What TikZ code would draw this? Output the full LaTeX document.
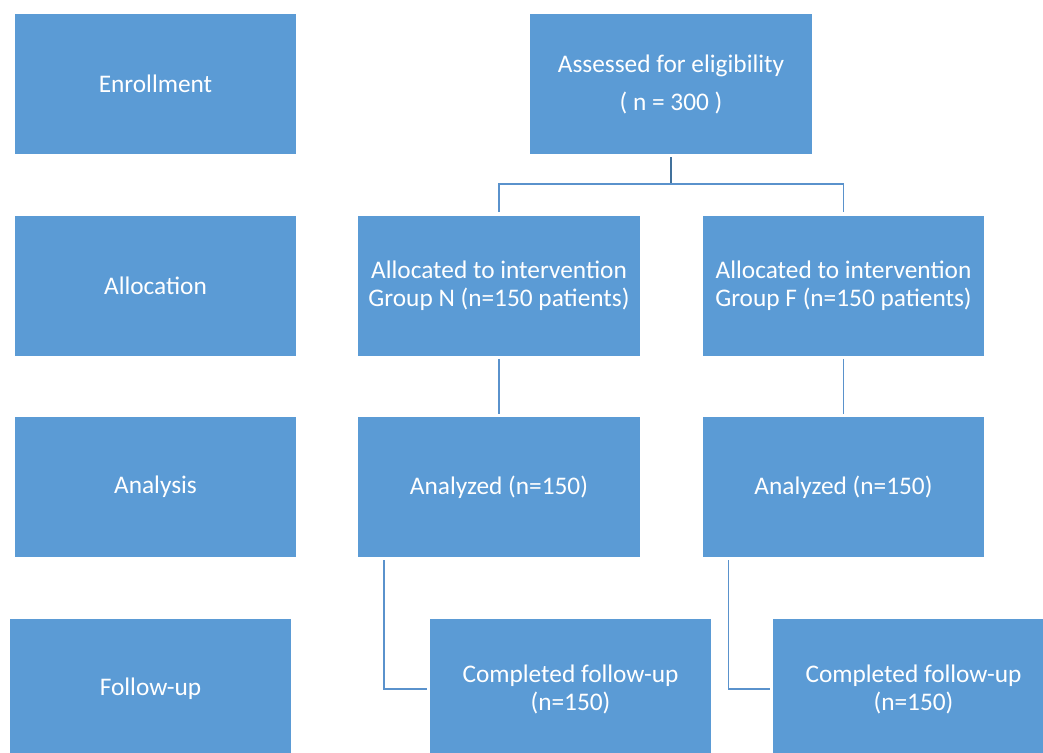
\documentclass[tikz,border=0pt]{standalone}
\usepackage{fontspec}
\setmainfont{Carlito}
\usetikzlibrary{calc}
\definecolor{boxblue}{HTML}{5B9BD5}
\definecolor{lineblue}{HTML}{5A92CC}
\definecolor{darkline}{HTML}{41719C}
\begin{document}
\begin{tikzpicture}[x=0.75pt,y=-0.75pt,
  box/.style={fill=boxblue,draw=none,inner sep=0pt,minimum width=211pt,minimum height=105pt,
    text=white,align=center,font=\fontsize{19}{21}\selectfont},
  conn/.style={draw=lineblue,line width=1.1pt},
  stem/.style={draw=darkline,line width=2.2pt}]
\useasboundingbox (0,0) rectangle (1043,753);
\clip (0,0) rectangle (1043,753);
\fill[white] (0,0) rectangle (1043,753);
\node[box] (enroll) at (155.5,84) {Enrollment};
\node[box] (assess) at (671,84) {Assessed for eligibility\\[7.5pt]( n = 300 )};
\node[box] (alloc) at (155.5,285.5) {Allocation};
\node[box] (allocN) at (499,285.5) {Allocated to intervention\\Group N (n=150 patients)};
\node[box] (allocF) at (843.5,285.5) {Allocated to intervention\\Group F (n=150 patients)};
\node[box] (analysis) at (155.5,487) {Analysis};
\node[box] (anaN) at (499,487) {Analyzed (n=150)};
\node[box] (anaF) at (843.5,487) {Analyzed (n=150)};
\node[box] (follow) at (150.5,689) {Follow-up};
\node[box] (compN) at (570.5,689) {Completed follow-up\\(n=150)};
\node[box] (compF) at (913.5,689) {Completed follow-up\\(n=150)};
\coordinate (split) at (671,184);
\draw[stem] ($(assess.south)+(0,3)$) -- (split);
\draw[conn] ($(allocN.north)+(0,-3)$) |- (split) -| ($(allocF.north)+(0,-3)$);
\draw[conn] ($(allocN.south)+(0,3)$) -- ($(anaN.north)+(0,-3)$);
\draw[conn] ($(allocF.south)+(0,3)$) -- ($(anaF.north)+(0,-3)$);
\draw[conn] ($(anaN.south west)+(26,3)$) |- ($(compN.west)+(-3,0)$);
\draw[conn] ($(anaF.south west)+(26,3)$) |- ($(compF.west)+(-3,0)$);
\end{tikzpicture}
\end{document}
